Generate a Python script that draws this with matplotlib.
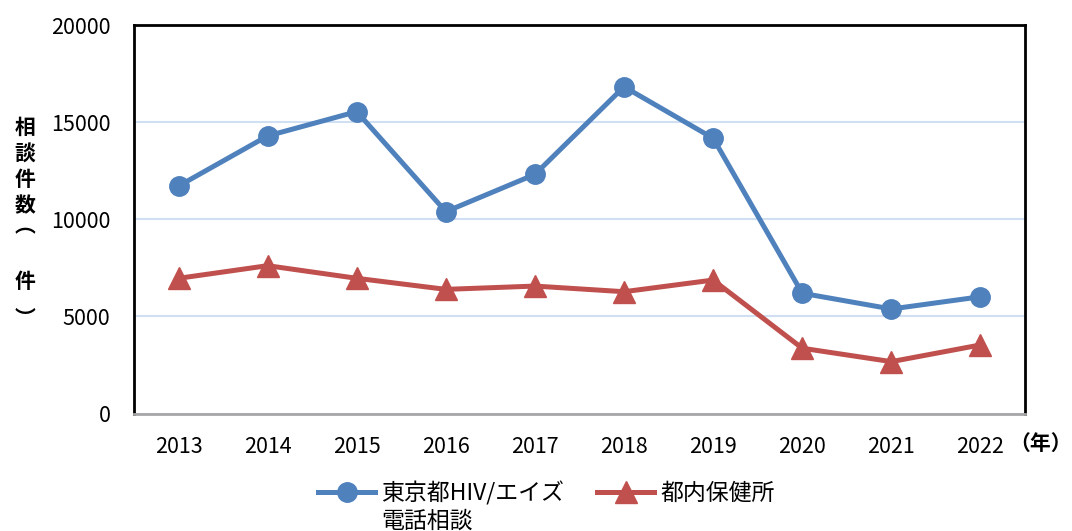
import matplotlib
matplotlib.use("Agg")
import matplotlib.pyplot as plt
from matplotlib.lines import Line2D

plt.rcParams['font.family'] = ['Noto Sans CJK JP', 'DejaVu Sans']

years = ['2013', '2014', '2015', '2016', '2017', '2018', '2019', '2020', '2021', '2022']
phone_consult = [11710, 14290, 15540, 10390, 12310, 16820, 14170, 6190, 5380, 6010]
health_centers = [6960, 7610, 6960, 6390, 6560, 6270, 6870, 3360, 2670, 3530]
label_phone = '東京都HIV/エイズ'
label_phone2 = '電話相談'
label_hc = '都内保健所'
ylabel_chars = ['相', '談', '件', '数', '︵', '件', '︶']
yticks = [0, 5000, 10000, 15000, 20000]

blue = '#4f81bd'
red = '#c0504d'

fig = plt.figure(figsize=(10.72, 5.31), dpi=100)
ax = fig.add_axes([134/1072, 1 - 413.5/531, (1025-134)/1072, (413.5-25)/531])

x = list(range(len(years)))
ax.plot(x, phone_consult, color=blue, lw=3.6, marker='o', markersize=14,
        solid_capstyle='round', zorder=3)
ax.plot(x, health_centers, color=red, lw=3.6, marker='^', markersize=16,
        solid_capstyle='round', zorder=3)

ax.set_xlim(-0.5, len(years) - 0.5)
ax.set_ylim(0, 20000)
ax.set_yticks(yticks)
ax.set_yticklabels([str(v) for v in yticks], fontsize=15.5)
ax.set_xticks(x)
ax.set_xticklabels(years, fontsize=15.5)
ax.tick_params(axis='y', length=0, pad=17)
ax.tick_params(axis='x', length=0, pad=16)
ax.grid(axis='y', color='#d0dff2', lw=1.5, zorder=0)
ax.set_axisbelow(True)

for s in ['top', 'left', 'right']:
    ax.spines[s].set_color('black')
    ax.spines[s].set_linewidth(2)
ax.spines['bottom'].set_color('#a6a6a6')
ax.spines['bottom'].set_linewidth(2)

# vertical y-axis label
ypos = [127, 153, 180, 206, 226, 282, 318]
for ch, yp in zip(ylabel_chars, ypos):
    fig.text(25/1072, 1 - yp/531, ch, fontsize=15, fontweight='bold',
             ha='center', va='center')

fig.text(1072/1072, 1 - 443/531, '（年）', fontsize=15, fontweight='bold',
         ha='right', va='center')

handles = [
    Line2D([], [], color=blue, lw=3.6, marker='o', markersize=14),
    Line2D([], [], color=red, lw=3.6, marker='^', markersize=16),
]
fig.legend(handles, [label_phone, label_hc], loc='center left',
           bbox_to_anchor=(318/1072, 1 - 493/531), ncol=2, frameon=False,
           fontsize=16.5, handlelength=2.5, handletextpad=0.25,
           columnspacing=1.45, borderpad=0, borderaxespad=0)
fig.text(381/1072, 1 - 521/531, label_phone2, fontsize=16.5, ha='left', va='center')

fig.savefig('out.png', dpi=100)
